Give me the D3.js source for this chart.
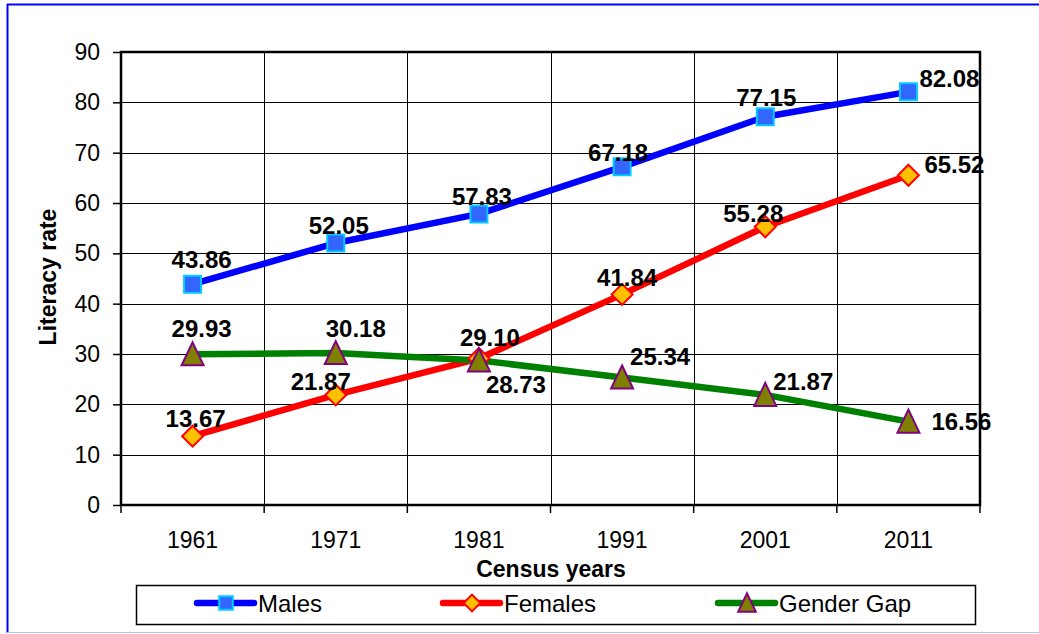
<!DOCTYPE html>
<html>
<head>
<meta charset="utf-8">
<script src="https://cdn.jsdelivr.net/npm/d3@7"></script>
<style>
  body { margin: 0; background: #fff; }
  svg { display: block; font-family: "Liberation Sans", Arial, sans-serif; }
</style>
</head>
<body>
<svg id="chart" width="1039" height="634"></svg>
<script>
// census years and literacy rates (%)
const years = ["1961", "1971", "1981", "1991", "2001", "2011"];
const males = [43.86, 52.05, 57.83, 67.18, 77.15, 82.08];
const females = [13.67, 21.87, 29.10, 41.84, 55.28, 65.52];
const genderGap = [29.93, 30.18, 28.73, 25.34, 21.87, 16.56];
const yTicks = [0, 10, 20, 30, 40, 50, 60, 70, 80, 90];

// where each value label sits relative to its marker [dx, dy]
const malesLabelPos = [[9, -16], [3, -9], [3, -9], [-4, -6], [1, -11], [41, -5]];
const femalesLabelPos = [[3, -9], [-15, -5], [11, -13], [5, -8], [-12, -5], [46, -2]];
const gapLabelPos = [[9, -17], [20, -16], [37, 33], [38, -12], [38, -5], [53, 8]];

const svg = d3.select('#chart');

// outer frame
svg.append('line').attr('x1', 7).attr('x2', 1039).attr('y1', 4.5).attr('y2', 4.5)
  .style('stroke', '#0000ff').style('stroke-width', 2);
svg.append('line').attr('x1', 7.5).attr('x2', 7.5).attr('y1', 4).attr('y2', 633)
  .style('stroke', '#0000ff').style('stroke-width', 2);
svg.append('line').attr('x1', 7).attr('x2', 1039).attr('y1', 632.5).attr('y2', 632.5)
  .style('stroke', '#b8c0f0').style('stroke-width', 1);

const plotL = 121, plotR = 980, plotT = 52, plotB = 505;

const x = d3.scaleBand().domain(years).range([plotL, plotR]);
const y = d3.scaleLinear().domain([0, 90]).range([plotB, plotT]);
const cx = d => x(d) + x.bandwidth() / 2;

// grid
const grid = svg.append('g');
grid.selectAll('line.h').data(yTicks).enter().append('line')
  .attr('x1', plotL).attr('x2', plotR)
  .attr('y1', d => Math.round(y(d)) + 0.5).attr('y2', d => Math.round(y(d)) + 0.5)
  .style('stroke', '#000').style('stroke-width', 1);
grid.selectAll('line.v').data(years.slice(1)).enter().append('line')
  .attr('x1', d => Math.round(x(d)) + 0.5).attr('x2', d => Math.round(x(d)) + 0.5)
  .attr('y1', plotT).attr('y2', plotB)
  .style('stroke', '#000').style('stroke-width', 1);

// axes
const yAxis = svg.append('g').attr('transform', `translate(${plotL},0)`)
  .call(d3.axisLeft(y).tickValues(yTicks).tickSize(8).tickPadding(13));
yAxis.select('.domain').remove();
yAxis.selectAll('line').style('stroke', '#000').style('stroke-width', 1.5);
yAxis.selectAll('text').style('font-size', '23px').style('fill', '#000')
  .style('font-family', '"Liberation Sans", Arial, sans-serif');

// bottom ticks sit on the category boundaries
const bTicks = svg.append('g');
bTicks.selectAll('line').data(years.concat(['end'])).enter().append('line')
  .attr('x1', (d, i) => i < years.length ? x(d) : plotR)
  .attr('x2', (d, i) => i < years.length ? x(d) : plotR)
  .attr('y1', plotB).attr('y2', plotB + 8)
  .style('stroke', '#000').style('stroke-width', 1.5);
bTicks.selectAll('text').data(years).enter().append('text')
  .attr('x', d => cx(d)).attr('y', 548)
  .attr('text-anchor', 'middle')
  .style('font-size', '23px')
  .text(d => d);

// plot border
svg.append('rect').attr('x', plotL).attr('y', plotT)
  .attr('width', plotR - plotL).attr('height', plotB - plotT)
  .style('fill', 'none').style('stroke', '#000').style('stroke-width', 2.5);

// axis titles
svg.append('text').attr('x', 551).attr('y', 577)
  .attr('text-anchor', 'middle')
  .style('font-size', '23px').style('font-weight', 'bold')
  .text('Census years');
svg.append('text')
  .attr('transform', 'translate(56,277) rotate(-90)')
  .attr('text-anchor', 'middle')
  .style('font-size', '23px').style('font-weight', 'bold')
  .text('Literacy rate');

// marker shapes
function squarePath(s) { const h = 8.5 * s; return `M${-h},${-h}H${h}V${h}H${-h}Z`; }
function diamondPath(s) { const h = 10.5 * s; return `M0,${-h}L${h},0L0,${h}L${-h},0Z`; }
function trianglePath(s) { return `M0,${-12 * s}L${11 * s},${11 * s}L${-11 * s},${11 * s}Z`; }

const series = [
  { name: 'Males', values: males, color: '#0000ff', shape: squarePath, fill: '#3366ff', stroke: '#00ccff', labels: malesLabelPos },
  { name: 'Females', values: females, color: '#ff0000', shape: diamondPath, fill: '#ffc000', stroke: '#ff0000', labels: femalesLabelPos },
  { name: 'Gender Gap', values: genderGap, color: '#008000', shape: trianglePath, fill: '#808000', stroke: '#800080', labels: gapLabelPos }
];

const line = d3.line().x((d, i) => cx(years[i])).y(d => y(d));

// draw lines first, then markers, then labels
series.forEach(s => {
  svg.append('path').datum(s.values)
    .attr('d', line)
    .style('fill', 'none').style('stroke', s.color)
    .style('stroke-width', 6.5).style('stroke-linejoin', 'round');
});
series.forEach(s => {
  svg.append('g').selectAll('path').data(s.values).enter().append('path')
    .attr('d', s.shape(1))
    .attr('transform', (d, i) => `translate(${cx(years[i])},${y(d)})`)
    .style('fill', s.fill).style('stroke', s.stroke).style('stroke-width', 2);
});
series.forEach(s => {
  svg.append('g').selectAll('text').data(s.values).enter().append('text')
    .attr('x', (d, i) => cx(years[i]) + s.labels[i][0])
    .attr('y', (d, i) => y(d) + s.labels[i][1])
    .attr('text-anchor', 'middle')
    .style('font-size', '24px').style('font-weight', 'bold')
    .text(d => d.toFixed(2));
});

// legend
const legend = svg.append('g');
legend.append('rect').attr('x', 136.5).attr('y', 585.5).attr('width', 839).attr('height', 39)
  .style('fill', '#fff').style('stroke', '#000').style('stroke-width', 1.5);
const legendX = [197, 443, 718];
series.forEach((s, i) => {
  const g = legend.append('g').attr('transform', `translate(${legendX[i]},603)`);
  g.append('line').attr('x1', 0).attr('x2', 57).attr('y1', 0).attr('y2', 0)
    .style('stroke', s.color).style('stroke-width', 6.5).style('stroke-linecap', 'round');
  g.append('path').attr('d', s.shape(0.8)).attr('transform', 'translate(29,0)')
    .style('fill', s.fill).style('stroke', s.stroke).style('stroke-width', 2);
  g.append('text').attr('x', 61).attr('y', 9)
    .style('font-size', '24px')
    .text(s.name);
});
</script>
</body>
</html>
